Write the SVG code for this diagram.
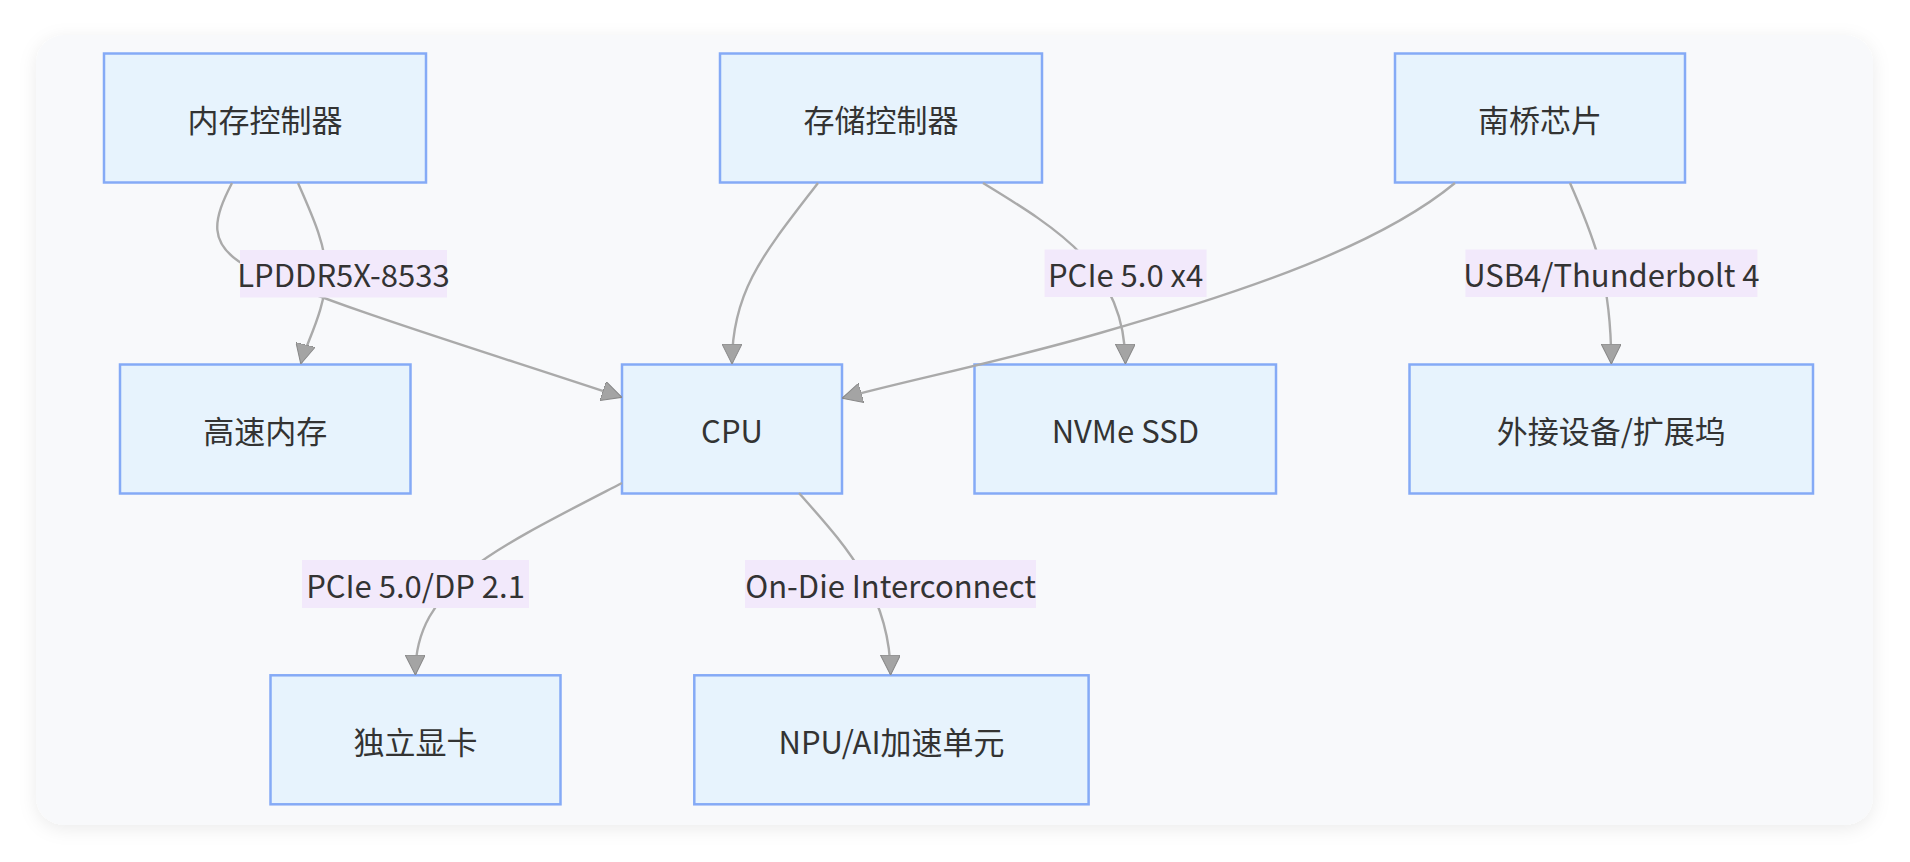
<svg xmlns="http://www.w3.org/2000/svg" width="1910" height="862" viewBox="0 0 1910 862">
<defs>
<style>
.node rect{fill:#e7f3fd;stroke:#85aaf6;stroke-width:2.5}
.node text{font-family:"Noto Sans CJK SC","Liberation Sans",sans-serif;font-size:31px;fill:#333;text-anchor:middle;dominant-baseline:central}
.edge{fill:none;stroke:#aaaaaa;stroke-width:2.4;marker-end:url(#arrow)}
.elabel rect{fill:#f2e9fb}
.elabel text{font-family:"Noto Sans CJK SC","Liberation Sans",sans-serif;font-size:31px;fill:#333;text-anchor:middle;dominant-baseline:central}
</style>
<marker id="arrow" viewBox="0 0 10 10" refX="9.5" refY="5" markerUnits="userSpaceOnUse" markerWidth="20" markerHeight="20" orient="auto">
<path d="M0,0 L10,5 L0,10 z" fill="#a4a4a4" stroke="#888" stroke-width="0.5"/>
</marker>
<filter id="shadow" x="-5%" y="-5%" width="110%" height="115%">
<feDropShadow dx="0" dy="4" stdDeviation="9" flood-color="#000" flood-opacity="0.08"/>
</filter>
</defs>
<rect x="0" y="0" width="1910" height="862" fill="#ffffff"/>
<rect x="36" y="35" width="1837" height="790" rx="28" ry="28" fill="#f8f9fb" filter="url(#shadow)"/>

<g id="node-memctrl" class="node"><rect x="104" y="53.5" width="322" height="129"/><text x="265" y="118">内存控制器</text></g>
<g id="node-storctrl" class="node"><rect x="720" y="53.5" width="322" height="129"/><text x="881" y="118">存储控制器</text></g>
<g id="node-southbridge" class="node"><rect x="1395" y="53.5" width="290" height="129"/><text x="1540" y="118">南桥芯片</text></g>
<g id="node-ram" class="node"><rect x="120" y="364.5" width="290.5" height="129"/><text x="265.3" y="429">高速内存</text></g>
<g id="node-cpu" class="node"><rect x="622" y="364.5" width="220" height="129"/><text x="732" y="429">CPU</text></g>
<g id="node-nvme" class="node"><rect x="974.5" y="364.5" width="301.5" height="129"/><text x="1125.3" y="429">NVMe SSD</text></g>
<g id="node-ext" class="node"><rect x="1409.5" y="364.5" width="403.5" height="129"/><text x="1611.3" y="429">外接设备/扩展坞</text></g>
<g id="node-gpu" class="node"><rect x="270.5" y="675.3" width="290" height="129"/><text x="415.5" y="740">独立显卡</text></g>
<g id="node-npu" class="node"><rect x="694.3" y="675.3" width="394.3" height="129"/><text x="891.5" y="740">NPU/AI加速单元</text></g>

<g id="connectors">
<path class="edge" d="M298,183 C312,215 326,245 326,273 C326,310 306,343 301,363"/>
<path class="edge" d="M232,183 C214,218 205,245 250,268 C330,305 480,350 621,397"/>
<path class="edge" d="M818,183 C765,252 732,290 732,363"/>
<path class="edge" d="M983,183 C1060,230 1125,270 1125.4,363"/>
<path class="edge" d="M1455,183 C1380,245 1250,290 1100,333 C1000,362 900,382 843,398"/>
<path class="edge" d="M1570,183 C1595,240 1611,280 1611.3,363"/>
<path class="edge" d="M622,483 C560,515 500,545 470,570 C435,600 415,630 415.4,674"/>
<path class="edge" d="M799,493 C840,540 890,590 890.6,674"/>
</g>

<g id="edge-labels">
<g class="elabel"><rect x="240" y="250" width="207" height="47.5"/><text x="343.5" y="273.8">LPDDR5X-8533</text></g>
<g class="elabel"><rect x="1044.6" y="249.5" width="162" height="47.5"/><text x="1125.6" y="273.3">PCIe 5.0 x4</text></g>
<g class="elabel"><rect x="1465.4" y="249.5" width="292" height="47.5"/><text x="1611.4" y="273.3">USB4/Thunderbolt 4</text></g>
<g class="elabel"><rect x="302" y="560" width="227" height="48"/><text x="415.5" y="584">PCIe 5.0/DP 2.1</text></g>
<g class="elabel"><rect x="745" y="560" width="291" height="48"/><text x="890.5" y="584">On-Die Interconnect</text></g>
</g>
</svg>
